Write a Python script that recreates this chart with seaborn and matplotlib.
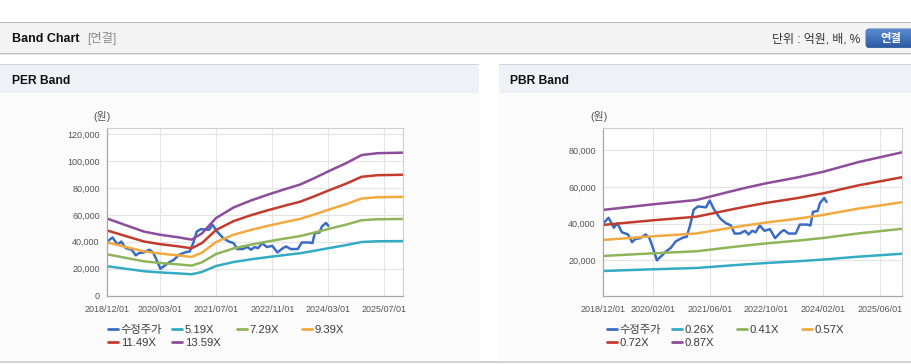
import numpy as np
import pandas as pd
import matplotlib
matplotlib.use("Agg")
import matplotlib.pyplot as plt
import matplotlib.dates as mdates
from matplotlib.patches import Rectangle, FancyBboxPatch
from matplotlib.lines import Line2D
from matplotlib.ticker import FuncFormatter
import seaborn as sns

# ─────────────────────────────────────────────
# Data
# ─────────────────────────────────────────────
price_dates = ["2018-12-01", "2019-01-15", "2019-03-01", "2019-04-01", "2019-05-10",
               "2019-07-01", "2019-08-05", "2019-09-01", "2019-10-15", "2019-12-01",
               "2020-01-01", "2020-02-01", "2020-03-05", "2020-04-10", "2020-05-20",
               "2020-07-01", "2020-08-15", "2020-10-15", "2020-11-15", "2020-12-15",
               "2021-01-15", "2021-02-20", "2021-05-01", "2021-06-01", "2021-07-10",
               "2021-09-01", "2021-10-20", "2021-12-01", "2022-01-01", "2022-02-15",
               "2022-04-01", "2022-05-01", "2022-06-01", "2022-07-01", "2022-08-05",
               "2022-09-15", "2022-11-01", "2022-12-15", "2023-02-01", "2023-03-01",
               "2023-04-10", "2023-06-10", "2023-07-15", "2023-09-15", "2023-10-15",
               "2023-11-05", "2023-12-15", "2024-01-05", "2024-02-10", "2024-03-01"]
price_values = [40200, 43200, 37800, 40200, 35300, 34100, 29900, 31600, 32100, 34100,
                32100, 26700, 20000, 22200, 24700, 26700, 30400, 32400, 32800, 39000,
                47600, 49400, 48900, 52600, 47600, 42700, 40200, 39000, 34600, 34600,
                36100, 34100, 36100, 35300, 39000, 36100, 37000, 32100, 35300, 36500,
                34600, 34600, 39500, 39500, 39000, 46400, 46900, 51300, 54000, 51800]

# PER band: earnings per share base, band = multiple x EPS
per_dates = ["2018-12-01", "2019-05-01", "2019-10-15", "2020-03-01", "2020-08-15",
             "2020-12-01", "2021-03-01", "2021-07-01", "2021-12-01", "2022-05-01",
             "2022-09-15", "2023-02-15", "2023-07-01", "2023-11-01", "2024-03-15",
             "2024-08-01", "2024-12-15", "2025-05-01", "2025-12-10"]
per_eps = [4210, 3870, 3500, 3330, 3180, 3060, 3400, 4240, 4820, 5200,
           5500, 5810, 6070, 6420, 6830, 7230, 7680, 7780, 7810]
per_multiples = [5.19, 7.29, 9.39, 11.49, 13.59]
per_labels = ["5.19X", "7.29X", "9.39X", "11.49X", "13.59X"]

# PBR band: book value per share base, band = multiple x BPS
pbr_dates = ["2018-12-01", "2020-02-01", "2021-02-07", "2021-06-01", "2021-11-19",
             "2022-04-10", "2022-09-28", "2023-06-13", "2024-02-01", "2024-12-01",
             "2025-12-10"]
pbr_bps = [54600, 58100, 60800, 62860, 66000, 68500, 71260, 74770, 78500, 84600, 90700]
pbr_multiples = [0.26, 0.41, 0.57, 0.72, 0.87]
pbr_labels = ["0.26X", "0.41X", "0.57X", "0.72X", "0.87X"]

price_label = "수정주가"
per_xticks = ["2018-12-01", "2020-03-01", "2021-07-01", "2022-11-01", "2024-03-01", "2025-07-01"]
pbr_xticks = ["2018-12-01", "2020-02-01", "2021-06-01", "2022-10-01", "2024-02-01", "2025-06-01"]
per_yticks = [0, 20000, 40000, 60000, 80000, 100000, 120000]
pbr_yticks = [20000, 40000, 60000, 80000]

colors = ["#3b6cc3", "#33abc3", "#8fb55a", "#f2aa40", "#c23b2c", "#8c4d9b"]

# ─────────────────────────────────────────────
# Style
# ─────────────────────────────────────────────
sns.set_style("white")
plt.rcParams["font.family"] = ["Liberation Sans", "Noto Sans CJK KR"]

W, H = 912, 364
fig = plt.figure(figsize=(W / 100, H / 100), dpi=100)


def fig_rect(x0, y0, x1, y1):
    return [x0 / W, 1 - y1 / H, (x1 - x0) / W, (y1 - y0) / H]


# background / page chrome drawn in pixel coordinates
bg = fig.add_axes([0, 0, 1, 1], zorder=0)
bg.set_xlim(0, W)
bg.set_ylim(H, 0)
bg.axis("off")

bg.add_patch(Rectangle((0, 22), W, 1, color="#b5b5b5", lw=0))
bg.add_patch(Rectangle((0, 23), W, 29.5, color="#f3f3f3", lw=0))
bg.add_patch(Rectangle((0, 52.5), W, 1, color="#c2c2c2", lw=0))
bg.add_patch(Rectangle((0, 53.5), W, 1.5, color="#e6e6e6", lw=0))

for px0, px1 in [(0, 479), (499, W)]:
    bg.add_patch(Rectangle((px0, 63.5), px1 - px0, 1.2, color="#d6d6d6", lw=0))
    bg.add_patch(Rectangle((px0, 64.7), px1 - px0, 28, color="#eef2f7", lw=0))
    bg.add_patch(Rectangle((px0, 92.7), px1 - px0, 268.5, color="#fbfbfb", lw=0))
bg.add_patch(Rectangle((0, 361.2), W, 1.3, color="#d2d2d2", lw=0))

bg.text(12, 38.5, "Band Chart", fontsize=9, fontweight="bold", color="#111111", va="center")
bg.text(87, 38.5, "[연결]", fontsize=8.8, color="#8a8a8a", va="center")
bg.text(860, 39, "단위 : 억원, 배, %", fontsize=8.6, color="#333333", va="center", ha="right")

btn = FancyBboxPatch((866, 29), 52, 18.5, boxstyle="round,pad=0,rounding_size=3",
                     facecolor="#3d6db2", edgecolor="#2f5a98", lw=0.6)
bg.add_patch(btn)
grad = np.linspace(0, 1, 50).reshape(-1, 1)
img = bg.imshow(grad, extent=(866, 918, 47.5, 29), cmap=matplotlib.colors.LinearSegmentedColormap.from_list(
    "btn", ["#5e8fd3", "#2d5ca5"]), aspect="auto", zorder=2)
img.set_clip_path(btn)
bg.set_xlim(0, W)
bg.set_ylim(H, 0)
bg.text(891, 38.5, "연결", fontsize=8.2, fontweight="bold", color="white", va="center",
        ha="center", zorder=3)

bg.text(12, 80.5, "PER Band", fontsize=8.7, fontweight="bold", color="#111111", va="center")
bg.text(510, 80.5, "PBR Band", fontsize=8.7, fontweight="bold", color="#111111", va="center")
bg.text(102, 117, "(원)", fontsize=7.8, color="#555555", va="center", ha="center")
bg.text(599, 117, "(원)", fontsize=7.8, color="#555555", va="center", ha="center")


def build_frame(dates, base, multiples, labels):
    parts = [pd.DataFrame({"date": pd.to_datetime(price_dates),
                           "value": price_values, "series": price_label})]
    for m, lab in zip(multiples, labels):
        parts.append(pd.DataFrame({"date": pd.to_datetime(dates),
                                   "value": np.array(base) * m, "series": lab}))
    return pd.concat(parts, ignore_index=True)


def draw_band(rect, df, order, xticks, yticks, ylim, legend_x, legend_y):
    ax = fig.add_axes(fig_rect(*rect), zorder=1)
    ax.set_facecolor("white")
    sns.lineplot(data=df, x="date", y="value", hue="series", hue_order=order,
                 palette=colors, estimator=None, linewidth=1.8, legend=False, ax=ax)
    ax.set_xlim(pd.Timestamp("2018-12-01"), pd.Timestamp("2025-12-06"))
    ax.set_ylim(*ylim)
    ax.set_xticks(pd.to_datetime(xticks))
    ax.xaxis.set_major_formatter(mdates.DateFormatter("%Y/%m/%d"))
    ax.set_yticks(yticks)
    ax.yaxis.set_major_formatter(FuncFormatter(lambda v, p: f"{v:,.0f}"))
    ax.set_xlabel("")
    ax.set_ylabel("")
    ax.grid(True, color="#e4e4e4", lw=0.8)
    ax.set_axisbelow(True)
    for side in ["top", "right"]:
        ax.spines[side].set_color("#cfcfcf")
        ax.spines[side].set_linewidth(0.8)
    for side in ["left", "bottom"]:
        ax.spines[side].set_color("#a8a8a8")
        ax.spines[side].set_linewidth(0.9)
    ax.tick_params(axis="both", labelsize=6.5, labelcolor="#555555", color="#a8a8a8",
                   length=3.5, width=0.8, pad=2)
    ax.tick_params(axis="x", pad=3)

    # legend: one entry per slot, laid out like the original item grid
    for i, (name, col) in enumerate(zip(order, colors)):
        x = legend_x[i % 4]
        y = legend_y[i // 4]
        fig.legend(handles=[Line2D([], [], color=col, lw=2)], labels=[name],
                   loc="center left", bbox_to_anchor=(x / W, 1 - y / H), frameon=False,
                   fontsize=8.1, labelcolor="#3a3a3a", handlelength=0.9,
                   handletextpad=0.25, borderpad=0, borderaxespad=0)
    return ax


per_df = build_frame(per_dates, per_eps, per_multiples, per_labels)
pbr_df = build_frame(pbr_dates, pbr_bps, pbr_multiples, pbr_labels)

draw_band((107.3, 128.3, 402.7, 295.7), per_df, [price_label] + per_labels,
          per_xticks, per_yticks, (0, 124200),
          [107.7, 171.7, 236.7, 301.7], [330, 343.3])
draw_band((603.3, 128.3, 901.7, 295.7), pbr_df, [price_label] + pbr_labels,
          pbr_xticks, pbr_yticks, (700, 92000),
          [606.7, 671.7, 736.7, 801.7], [330, 343.3])

fig.savefig("out.png", dpi=100)
